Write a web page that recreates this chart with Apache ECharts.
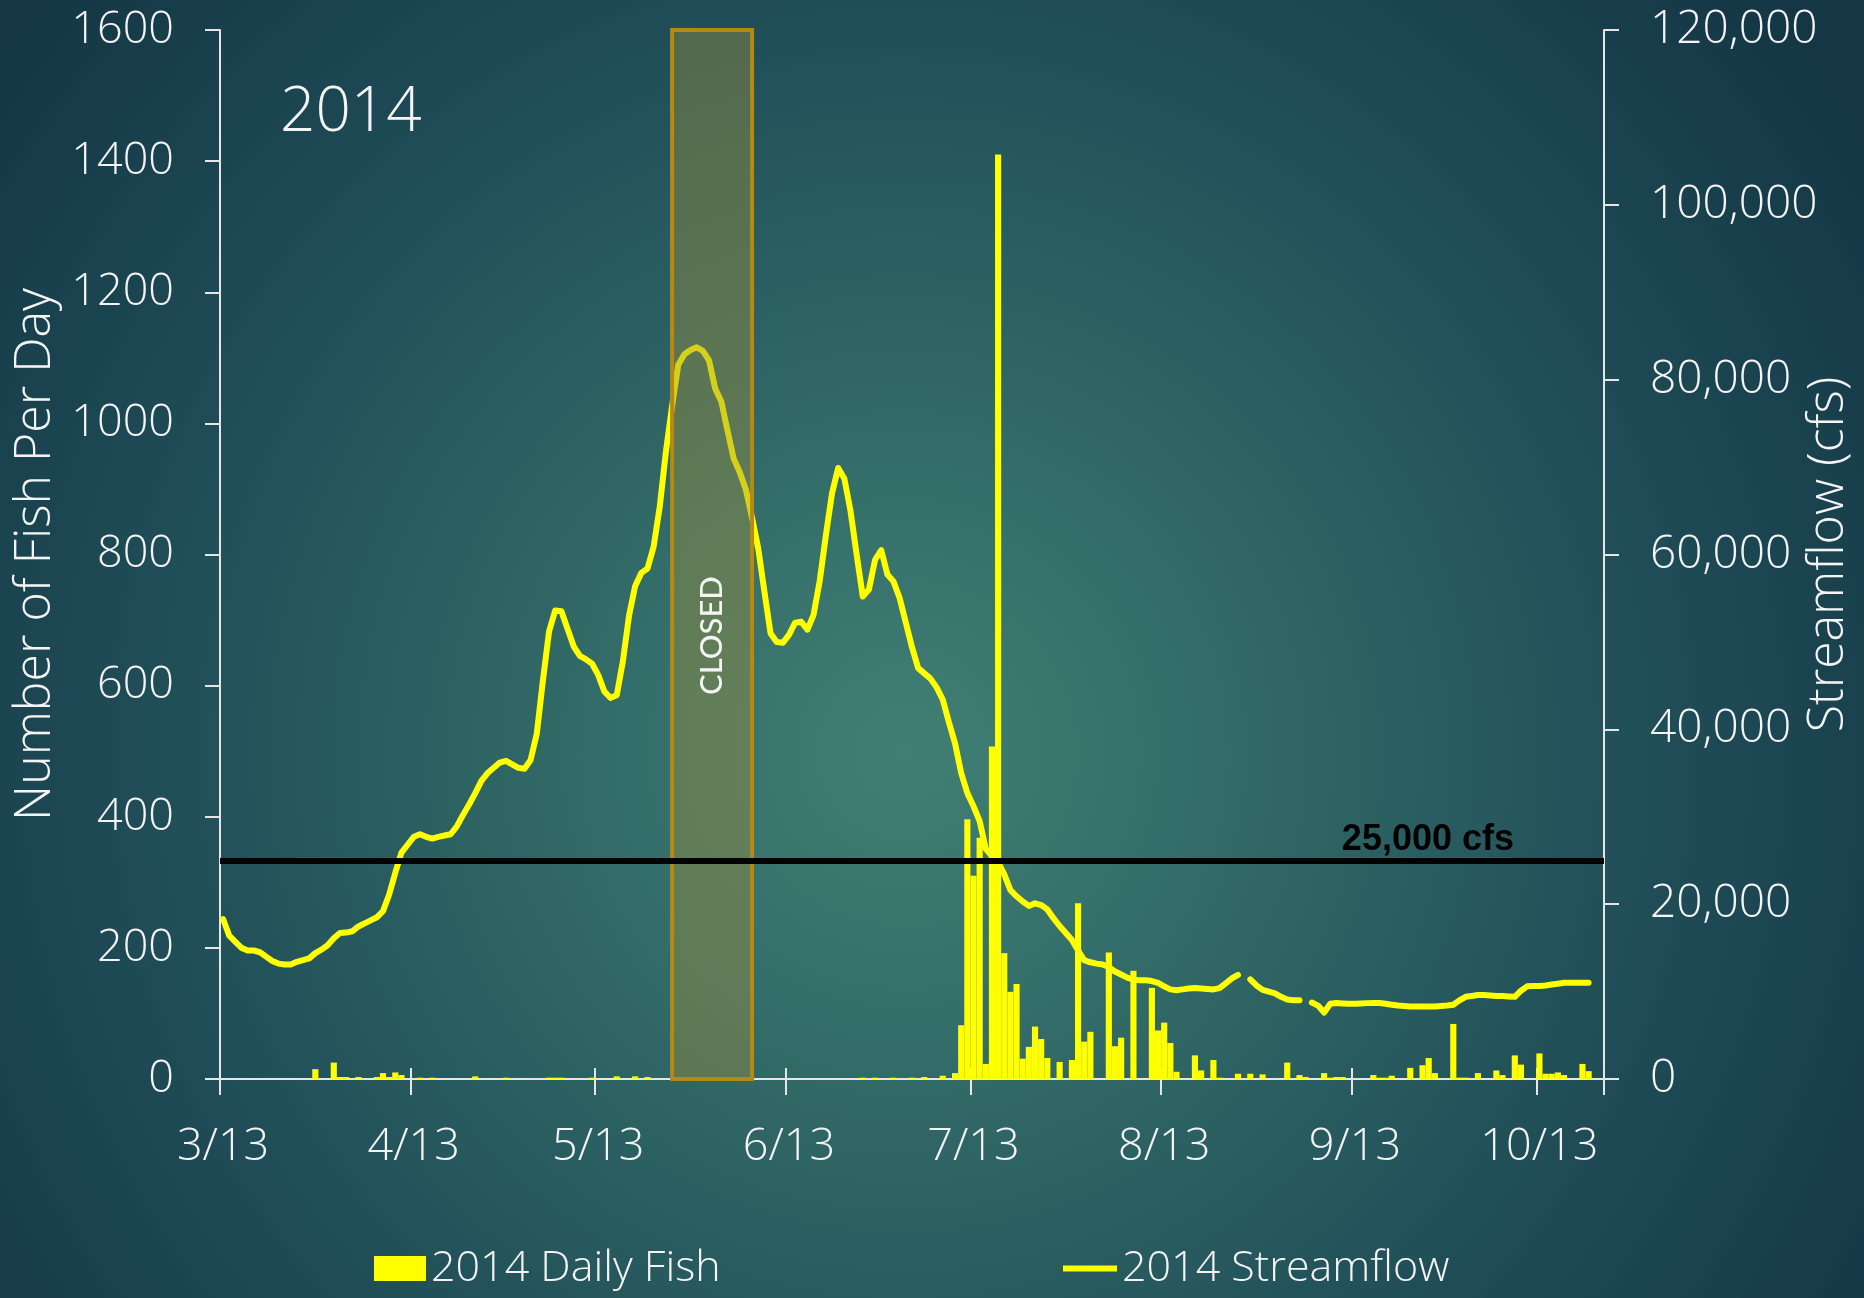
<!DOCTYPE html>
<html>
<head>
<meta charset="utf-8">
<script src="https://cdn.jsdelivr.net/npm/echarts@6/dist/echarts.min.js"></script>
<style>
html,body{margin:0;padding:0;width:1864px;height:1298px;overflow:hidden;}
body{background:radial-gradient(circle 1150px at 48.5% 58%, #417f74 0%, #36716b 20%, #285b5f 48%, #1c4753 74%, #143645 100%);}
#chart{width:1864px;height:1298px;}
</style>
</head>
<body>
<div id="chart"></div>
<script>
// ---- categories: one per day, 3/13/2014 .. 10/23/2014 ----
const START = [2014, 2, 13];
const DAY_COUNT = 225;
const days = [];
for (let i = 0; i < DAY_COUNT; i++) {
  const d = new Date(START[0], START[1], START[2] + i);
  days.push((d.getMonth() + 1) + '/' + d.getDate());
}
const tickDays = ['3/13', '4/13', '5/13', '6/13', '7/13', '8/13', '9/13', '10/13'];

// ---- 2014 Daily Fish (count per day, index = day from 3/13) ----
const dailyFish = [
  0,0,0,0,0, 0,0,0,0,0, 0,0,0,0,0,
  15,0,0,25,3, 3,0,3,0,0, 3,9,3,10,6,
  0,0,2,0,2, 0,0,0,0,0, 0,4,0,0,0,
  0,2,0,0,0, 0,0,0,2,2, 2,0,0,0,0,
  2,0,0,0,4, 0,0,4,0,3, 0,0,0,0,0,
  0,0,0,0,0, 0,0,0,0,0, 0,0,0,0,0,
  0,0,0,0,0, 0,0,0,0,0, 0,0,0,0,2,
  0,2,0,0,2, 0,0,2,0,3, 0,0,5,0,9,
  82,396,310,368,23, 507,1410,192,133,145, 31,49,80,61,32,
  0,26,0,29,268, 57,72,0,0,193, 50,63,0,165,0,
  0,139,74,86,55, 11,0,0,36,13, 0,29,2,0,0,
  8,0,8,0,7, 0,0,0,25,0, 6,3,0,0,9,
  2,3,3,0,0, 0,0,6,2,2, 5,0,0,17,0,
  21,32,9,0,0, 84,2,2,0,9, 0,0,13,6,0,
  36,22,0,0,39, 8,8,10,6,0, 0,23,12,0,0
];

// ---- 2014 Streamflow (cfs, index = day from 3/13; null = no reading) ----
const streamflow = [
  18300,16400,15700,15000,14700,14700,14500,14000,13500,13200,
  13100,13100,13400,13600,13800,14400,14800,15300,16100,16700,
  16750,16900,17450,17800,18150,18500,19200,21100,23600,25900,
  26800,27700,28000,27700,27500,27700,27850,28000,28900,30200,
  31400,32700,34100,35000,35600,36200,36400,36000,35600,35500,
  36500,39500,45600,51200,53600,53500,51500,49500,48400,48000,
  47500,46200,44300,43600,43900,47800,53000,56400,57900,58400,
  60900,65500,71800,77000,81700,82900,83400,83700,83300,82200,
  79000,77500,74200,71000,69400,67400,64200,60700,55800,51000,
  50000,49900,50800,52200,52300,51400,53100,57000,62200,67000,
  69900,68700,65000,60000,55200,56000,59400,60500,57700,56900,
  55000,52200,49400,47000,46400,45800,44800,43400,40800,38400,
  35000,32700,31200,29500,26300,25500,24800,23400,21600,20900,
  20300,19800,20100,19900,19400,18400,17500,16700,15900,14700,
  13600,13350,13200,13100,12800,12300,11950,11600,11350,11300,
  11300,11200,11000,10600,10250,10150,10250,10350,10400,10350,
  10300,10250,10400,10950,11500,11900,null,11400,10700,10200,
  10000,9800,9400,9100,9000,9000,null,8750,8400,7600,
  8600,8700,8650,8600,8620,8650,8680,8700,8700,8600,
  8500,8400,8350,8300,8300,8300,8300,8300,8350,8400,
  8500,9000,9400,9500,9600,9600,9550,9500,9500,9450,
  9400,10100,10600,10650,10650,10700,10800,10900,11000,11000,
  11000,11000,11000,null,null
];

const closedPeriod = ['5/25', '6/7'];
const thresholdCfs = 25000;
const fishTicks = { min: 0, max: 1600, interval: 200 };
const flowTicks = { min: 0, max: 120000, interval: 20000 };

const FONT = "'Open Sans', 'Noto Sans', sans-serif";
const WHITE = '#f4f4f4';
const YELLOW = '#ffff00';
const isTick = (i, v) => tickDays.indexOf(v) >= 0;

const chart = echarts.init(document.getElementById('chart'), null, { renderer: 'canvas' });
chart.setOption({
  animation: false,
  backgroundColor: 'transparent',
  grid: { left: 220, right: 260, top: 30, bottom: 219, containLabel: false, outerBoundsMode: 'none' },
  graphic: [{
    type: 'text', x: 280, y: 113, silent: true,
    style: { text: '2014', fill: WHITE, fontSize: 62, fontFamily: FONT, fontWeight: 300,
             align: 'left', verticalAlign: 'middle', textAlign: 'left', textVerticalAlign: 'middle' }
  }],
  legend: [
    { data: [{ name: '2014 Daily Fish', icon: 'rect' }], left: 374, top: 1247, padding: 0,
      itemWidth: 52, itemHeight: 25, selectedMode: false,
      textStyle: { color: WHITE, fontSize: 43, fontFamily: FONT, fontWeight: 300, lineHeight: 42 } },
    { data: [{ name: '2014 Streamflow', icon: 'rect' }], left: 1063, top: 1247, padding: 0,
      itemWidth: 54, itemHeight: 6, selectedMode: false,
      textStyle: { color: WHITE, fontSize: 43, fontFamily: FONT, fontWeight: 300, lineHeight: 42 } }
  ],
  xAxis: [{
    type: 'category', data: days, boundaryGap: true, position: 'bottom',
    axisLine: { show: true, lineStyle: { color: '#e6e6e6', width: 2 } },
    axisTick: { show: true, interval: isTick, inside: false, length: 16, lineStyle: { color: '#e6e6e6', width: 2 } },
    axisLabel: { interval: isTick, color: WHITE, fontSize: 45, fontFamily: FONT, fontWeight: 300, margin: 46 },
    splitLine: { show: false }
  }, {
    type: 'category', data: days, boundaryGap: true, position: 'top', offset: -1049,
    axisLine: { show: false },
    axisTick: { show: true, interval: isTick, inside: false, length: 11, lineStyle: { color: '#e6e6e6', width: 2 } },
    axisLabel: { show: false },
    splitLine: { show: false }
  }],
  yAxis: [{
    type: 'value', position: 'left', min: fishTicks.min, max: fishTicks.max, interval: fishTicks.interval,
    name: 'Number of Fish Per Day', nameLocation: 'middle', nameRotate: 90, nameGap: 156,
    nameTextStyle: { color: WHITE, fontSize: 50, fontFamily: FONT, fontWeight: 300 },
    axisLine: { show: true, lineStyle: { color: '#e6e6e6', width: 2 } },
    axisTick: { show: true, length: 15, lineStyle: { color: '#e6e6e6', width: 2 } },
    axisLabel: { color: WHITE, fontSize: 45, fontFamily: FONT, fontWeight: 300, margin: 46,
                 formatter: v => String(v) },
    splitLine: { show: false }
  }, {
    type: 'value', position: 'right', min: flowTicks.min, max: flowTicks.max, interval: flowTicks.interval,
    name: 'Streamflow (cfs)', nameLocation: 'middle', nameRotate: 90, nameGap: 200, nameMoveOverlap: false,
    nameTextStyle: { color: WHITE, fontSize: 50, fontFamily: FONT, fontWeight: 300 },
    axisLine: { show: true, lineStyle: { color: '#e6e6e6', width: 2 } },
    axisTick: { show: true, length: 15, lineStyle: { color: '#e6e6e6', width: 2 } },
    axisLabel: { color: WHITE, fontSize: 46, fontFamily: FONT, fontWeight: 300, margin: 46,
                 formatter: v => v.toLocaleString('en-US') },
    splitLine: { show: false }
  }],
  series: [{
    name: '2014 Daily Fish', type: 'bar', xAxisIndex: 0, yAxisIndex: 0,
    data: dailyFish, barCategoryGap: '0%', itemStyle: { color: YELLOW }, z: 2
  }, {
    name: '2014 Streamflow', type: 'line', xAxisIndex: 0, yAxisIndex: 1,
    data: streamflow, showSymbol: false, connectNulls: false, z: 2,
    itemStyle: { color: YELLOW },
    lineStyle: { color: YELLOW, width: 6, cap: 'round', join: 'round' },
    markLine: {
      silent: true, symbol: 'none', z: 5, animation: false,
      lineStyle: { color: '#000000', width: 6, type: 'solid' },
      label: { show: true, position: 'insideEndTop', formatter: '25,000 cfs', distance: [90, 2],
               color: '#000000', fontSize: 36, fontWeight: 'bold',
               fontFamily: "'Liberation Sans', Arial, sans-serif" },
      data: [{ yAxis: thresholdCfs }]
    }
  }, {
    name: 'closed', type: 'line', xAxisIndex: 0, yAxisIndex: 0, data: [],
    markArea: {
      silent: true, z: 3,
      itemStyle: { color: 'rgba(157,143,62,0.42)', borderColor: '#b48a14', borderWidth: 4 },
      label: { show: true, position: 'inside', rotate: 90, formatter: 'CLOSED', offset: [-81, 0],
               color: '#f4f4f4', fontSize: 31, fontWeight: 500, fontFamily: "Lato, 'Open Sans', sans-serif" },
      data: [[{ xAxis: closedPeriod[0], yAxis: 0 }, { xAxis: closedPeriod[1], yAxis: 1610 }]]
    }
  }]
});
</script>
</body>
</html>
